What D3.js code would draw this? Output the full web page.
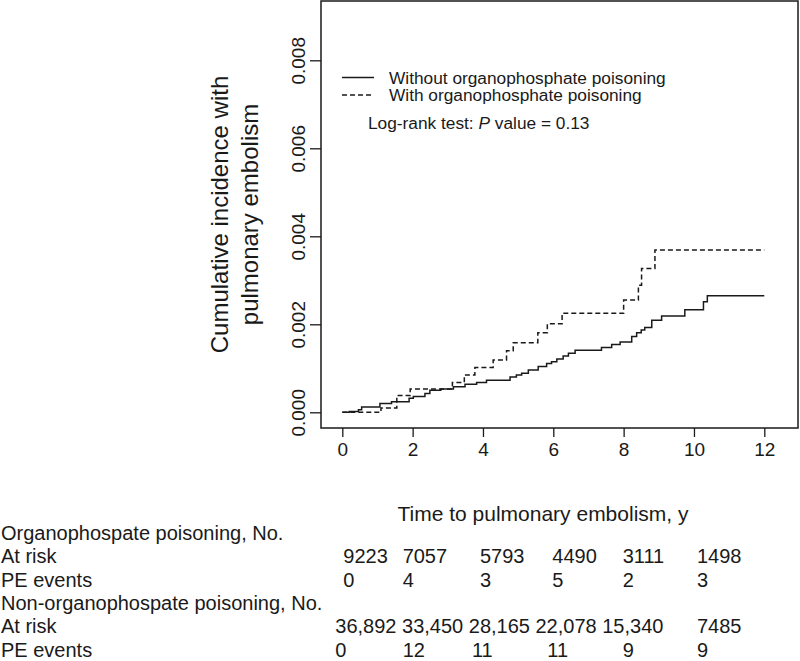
<!DOCTYPE html>
<html>
<head>
<meta charset="utf-8">
<script src="https://cdn.jsdelivr.net/npm/d3@7"></script>
<style>
  html, body { margin: 0; padding: 0; background: #fff; }
  svg { display: block; font-family: "Liberation Sans", Arial, Helvetica, sans-serif; }
</style>
</head>
<body>
<svg id="chart" width="800" height="661"></svg>
<script>
// ---------------- data ----------------
const xTicks = [0, 2, 4, 6, 8, 10, 12];
const yTicks = [0, 0.002, 0.004, 0.006, 0.008];

// cumulative incidence, without organophosphate poisoning (solid)
const withoutTime = [0, 0.2, 0.46, 0.55, 1.07, 1.4, 1.9, 2.02, 2.35, 2.49, 2.8, 3.16, 3.49, 3.82, 4.1, 4.77, 4.95, 5.1, 5.29, 5.57, 5.81, 5.95, 6.1, 6.28, 6.43, 6.62, 7.37, 7.66, 7.9, 8.23, 8.37, 8.5, 8.6, 8.8, 9.08, 9.74, 10.27, 10.38, 12];
const withoutCI   = [0, 0.00002, 0.00006, 0.00012, 0.0002, 0.00024, 0.00032, 0.00036, 0.00043, 0.0005, 0.00053, 0.00058, 0.00064, 0.00068, 0.00073, 0.0008, 0.00085, 0.00089, 0.00096, 0.00104, 0.00111, 0.00115, 0.00121, 0.00128, 0.00134, 0.00141, 0.00147, 0.00154, 0.0016, 0.00172, 0.00181, 0.00187, 0.00193, 0.00209, 0.00219, 0.00233, 0.00251, 0.00265, 0.00265];

// cumulative incidence, with organophosphate poisoning (dashed)
const withTime = [0, 1.1, 1.55, 1.93, 3.13, 3.47, 3.77, 4.29, 4.67, 4.86, 5.56, 5.83, 6.25, 8.0, 8.42, 8.51, 8.89, 12];
const withCI   = [0, 0.0001, 0.00038, 0.00053, 0.00068, 0.00085, 0.00102, 0.00119, 0.0014, 0.00158, 0.00181, 0.00201, 0.00225, 0.00255, 0.00289, 0.00327, 0.00369, 0.00369];

// risk table
const riskTimes = [0, 2, 4, 6, 8, 10];
const opAtRisk  = ["9223", "7057", "5793", "4490", "3111", "1498"];
const opEvents  = ["0", "4", "3", "5", "2", "3"];
const nonAtRisk = ["36,892", "33,450", "28,165", "22,078", "15,340", "7485"];
const nonEvents = ["0", "12", "11", "11", "9", "9"];

const legendLabels = ["Without organophosphate poisoning", "With organophosphate poisoning"];

// ---------------- layout ----------------
const svg = d3.select("#chart");
const box = { left: 321, right: 798, top: 1, bottom: 428 };
const x = d3.scaleLinear().domain([0, 12]).range([342.3, 764.3]);
const y = d3.scaleLinear().domain([0, 0.008]).range([412.3, 60.3]);
const ink = "#1a1a1a";

// frame
svg.append("rect")
  .attr("x", box.left).attr("y", box.top)
  .attr("width", box.right - box.left).attr("height", box.bottom - box.top)
  .attr("fill", "none").attr("stroke", ink).attr("stroke-width", 1.5);

// x axis
const xAxis = d3.axisBottom(x).tickValues(xTicks).tickSize(9).tickPadding(6).tickFormat(d3.format("d"));
const gx = svg.append("g").attr("transform", `translate(0,${box.bottom})`).call(xAxis);
gx.select(".domain").remove();
gx.selectAll(".tick line").attr("stroke", ink).attr("stroke-width", 1.3);
gx.selectAll(".tick text").attr("font-size", 19).attr("fill", ink)
  .attr("font-family", "Liberation Sans, Arial, sans-serif");

// y axis
const yAxis = d3.axisLeft(y).tickValues(yTicks).tickSize(11).tickPadding(0).tickFormat(d3.format(".3f"));
const gy = svg.append("g").attr("transform", `translate(${box.left},0)`).call(yAxis);
gy.select(".domain").remove();
gy.selectAll(".tick line").attr("stroke", ink).attr("stroke-width", 1.3);
gy.selectAll(".tick text")
  .attr("font-size", 19).attr("fill", ink)
  .attr("font-family", "Liberation Sans, Arial, sans-serif")
  .attr("x", null).attr("dy", null)
  .attr("text-anchor", "middle")
  .attr("transform", "translate(-16,0) rotate(-90)");

// curves
const line = d3.line().x(d => x(d[0])).y(d => y(d[1])).curve(d3.curveStepAfter);
const solidPts = withoutTime.map((t, i) => [t, withoutCI[i]]);
const dashPts = withTime.map((t, i) => [t, withCI[i]]);
svg.append("path").attr("d", line(solidPts)).attr("fill", "none")
  .attr("stroke", ink).attr("stroke-width", 1.5);
svg.append("path").attr("d", line(dashPts)).attr("fill", "none")
  .attr("stroke", ink).attr("stroke-width", 1.5).attr("stroke-dasharray", "5,3");

// y title
const yt = svg.append("text")
  .attr("transform", "translate(228,214.5) rotate(-90)")
  .attr("text-anchor", "middle").attr("font-size", 24).attr("fill", ink);
yt.append("tspan").attr("x", 0).attr("y", 0).text("Cumulative incidence with");
yt.append("tspan").attr("x", 0).attr("y", 30).text("pulmonary embolism");

// legend
const lg = svg.append("g");
legendLabels.forEach((lab, i) => {
  const yy = 77.5 + i * 17.5;
  lg.append("line").attr("x1", 342).attr("x2", 374).attr("y1", yy).attr("y2", yy)
    .attr("stroke", ink).attr("stroke-width", 1.5)
    .attr("stroke-dasharray", i === 1 ? "5,3" : null);
  lg.append("text").attr("x", 389).attr("y", yy + 6).attr("font-size", 17.3)
    .attr("fill", ink).text(lab);
});
const pv = svg.append("text").attr("x", 368).attr("y", 128.5).attr("font-size", 17.3).attr("fill", ink);
pv.append("tspan").text("Log-rank test: ");
pv.append("tspan").attr("font-style", "italic").text("P");
pv.append("tspan").text(" value = 0.13");

// x title
svg.append("text").attr("x", 543).attr("y", 521).attr("text-anchor", "middle")
  .attr("font-size", 21).attr("fill", ink).text("Time to pulmonary embolism, y");

// risk table
const rowY = [540, 563.3, 586.7, 610, 633.3, 656.7];
const tf = 20;
const tbl = svg.append("g").attr("font-size", tf).attr("fill", ink);
tbl.append("text").attr("x", 1).attr("y", rowY[0]).text("Organophospate poisoning, No.");
tbl.append("text").attr("x", 1).attr("y", rowY[1]).text("At risk");
tbl.append("text").attr("x", 1).attr("y", rowY[2]).text("PE events");
tbl.append("text").attr("x", 1).attr("y", rowY[3]).text("Non-organophospate poisoning, No.");
tbl.append("text").attr("x", 1).attr("y", rowY[4]).text("At risk");
tbl.append("text").attr("x", 1).attr("y", rowY[5]).text("PE events");

// column offsets (typeset table, as in the reference)
const opShift = [1, -10, -3, -1, -1, 3];
const nonEvShift = [-7, -10, -11, -6, -1, 3];

function row(vals, yy, shift) {
  tbl.selectAll(null).data(vals).enter().append("text")
    .attr("x", (d, i) => x(riskTimes[i]) + shift[i])
    .attr("y", yy).text(d => d);
}
row(opAtRisk, rowY[1], opShift);
row(opEvents, rowY[2], opShift);
// non-OP at-risk: first five numbers run on with single spaces, last one tabbed
const flow = tbl.append("text").attr("x", x(riskTimes[0]) - 7).attr("y", rowY[4])
  .attr("xml:space", "preserve").style("white-space", "pre");
flow.text(nonAtRisk.slice(0, 5).join(" "));
tbl.append("text").attr("x", x(riskTimes[5]) + 3).attr("y", rowY[4]).text(nonAtRisk[5]);
row(nonEvents, rowY[5], nonEvShift);
</script>
</body>
</html>
